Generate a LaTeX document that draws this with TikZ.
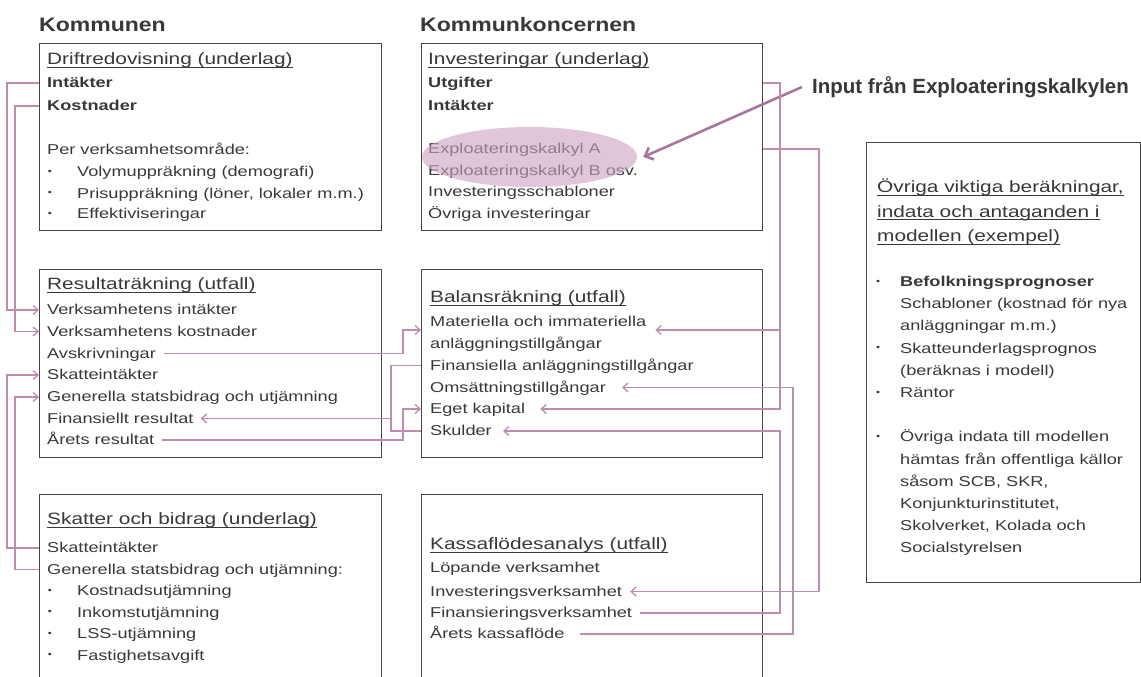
\documentclass[tikz,border=0pt]{standalone}
\usepackage{fontspec}
\setmainfont{Liberation Sans}[FakeStretch=1.27]
\newfontfamily\headfont{Liberation Sans}[FakeStretch=1.18]
\newfontfamily\inputfont{Liberation Sans}
\newcommand\myul[1]{{\setbox0\hbox{#1}\rlap{\rule[-3pt]{\wd0}{0.9pt}}\box0}}
\usetikzlibrary{arrows.meta,calc,shapes.geometric}
\definecolor{tx}{HTML}{383838}
\definecolor{bd}{HTML}{444444}
\definecolor{pk}{HTML}{BF8CAF}
\definecolor{pkd}{HTML}{A9769B}
\definecolor{ellc}{HTML}{CDA3C0}
\begin{document}
\begin{tikzpicture}[x=1pt,y=-1pt,
  box/.style={draw=bd, line width=1.2pt, inner sep=0pt, anchor=north west},
  txt/.style={anchor=west, inner sep=0pt, text height=11pt, text depth=2pt, text=tx, font=\fontsize{14.3}{16}\selectfont},
  btxt/.style={txt, font=\fontsize{14.3}{16}\selectfont\bfseries},
  ttl/.style={txt, font=\fontsize{16.4}{18}\selectfont},
  bul/.style={inner sep=0pt, text=tx, font=\fontsize{9}{9}\selectfont},
  head/.style={anchor=west, inner sep=0pt, text=tx, font=\headfont\bfseries\fontsize{19.5}{22}\selectfont},
  conn/.style={draw=pk, line width=1.3pt},
  arr/.style={conn, -{Straight Barb[length=5pt,width=9pt]}},
  bigarr/.style={draw=pkd, line width=2.6pt, -{Straight Barb[length=7pt,width=13pt]}},
]
\useasboundingbox (0,0) rectangle (1141,677);

% headers
\node[head] (kom) at (39,25) {Kommunen};
\node[head] (komk) at (420,25) {Kommunkoncernen};

% boxes
\node[box, minimum width=342pt, minimum height=187pt] (A) at (39,43) {};
\node[box, minimum width=341pt, minimum height=187pt] (B) at (421,43) {};
\node[box, minimum width=342pt, minimum height=188pt] (C) at (39,269) {};
\node[box, minimum width=341pt, minimum height=188pt] (D) at (421,269) {};
\node[box, minimum width=342pt, minimum height=220pt] (E) at (39,494) {};
\node[box, minimum width=341pt, minimum height=220pt] (F) at (421,494) {};
\node[box, minimum width=273.5pt, minimum height=440pt] (G) at (866,142) {};

% box A
\node[ttl] (a-t) at (47,60) {\myul{Driftredovisning (underlag)}};
\node[btxt] (a-int) at (47,83) {Intäkter};
\node[btxt] (a-kost) at (47,106) {Kostnader};
\node[txt] (a-per) at (47,150) {Per verksamhetsområde:};
\node[bul] (a-b1) at (50,172) {•};
\node[txt] (a-vol) at (77,172) {Volymuppräkning (demografi)};
\node[bul] (a-b2) at (50,193.5) {•};
\node[txt] (a-pris) at (77,193.5) {Prisuppräkning (löner, lokaler m.m.)};
\node[bul] (a-b3) at (50,214) {•};
\node[txt] (a-eff) at (77,214) {Effektiviseringar};

% box B
\node[ttl] (b-t) at (428,60) {\myul{Investeringar (underlag)}};
\node[btxt] (b-utg) at (428,83) {Utgifter};
\node[btxt] (b-int) at (428,106) {Intäkter};
\node[txt] (b-ea) at (428,149) {Exploateringskalkyl A};
\node[txt] (b-eb) at (428,170.5) {Exploateringskalkyl B osv.};
\node[txt] (b-is) at (428,192) {Investeringsschabloner};
\node[txt] (b-oi) at (428,213.5) {Övriga investeringar};
\node[ellipse, fill=ellc, fill opacity=0.62, minimum width=215pt, minimum height=60pt, inner sep=0pt] (ell) at (529.5,157) {};

% box C
\node[ttl] (c-t) at (47,285) {\myul{Resultaträkning (utfall)}};
\node[txt] (c-vi) at (47,310) {Verksamhetens intäkter};
\node[txt] (c-vk) at (47,331.5) {Verksamhetens kostnader};
\node[txt] (c-avs) at (47,353.5) {Avskrivningar};
\node[txt] (c-sk) at (47,375) {Skatteintäkter};
\node[txt] (c-gen) at (47,397) {Generella statsbidrag och utjämning};
\node[txt] (c-fin) at (47,418.5) {Finansiellt resultat};
\node[txt] (c-ar) at (47,440) {Årets resultat};

% box D
\node[ttl] (d-t) at (430,298) {\myul{Balansräkning (utfall)}};
\node[txt] (d-mat) at (430,322) {Materiella och immateriella};
\node[txt] (d-anl) at (430,344) {anläggningstillgångar};
\node[txt] (d-fa) at (430,365.5) {Finansiella anläggningstillgångar};
\node[txt] (d-om) at (430,387.5) {Omsättningstillgångar};
\node[txt] (d-ek) at (430,409) {Eget kapital};
\node[txt] (d-sk) at (430,431) {Skulder};

% box E
\node[ttl] (e-t) at (47,520) {\myul{Skatter och bidrag (underlag)}};
\node[txt] (e-sk) at (47,548) {Skatteintäkter};
\node[txt] (e-gen) at (47,569.5) {Generella statsbidrag och utjämning:};
\node[bul] (e-b1) at (50,591) {•};
\node[txt] (e-ku) at (77,591) {Kostnadsutjämning};
\node[bul] (e-b2) at (50,612.5) {•};
\node[txt] (e-iu) at (77,612.5) {Inkomstutjämning};
\node[bul] (e-b3) at (50,634) {•};
\node[txt] (e-lss) at (77,634) {LSS-utjämning};
\node[bul] (e-b4) at (50,655.5) {•};
\node[txt] (e-fa) at (77,655.5) {Fastighetsavgift};

% box F
\node[ttl] (f-t) at (430,545) {\myul{Kassaflödesanalys (utfall)}};
\node[txt] (f-lop) at (430,568) {Löpande verksamhet};
\node[txt] (f-inv) at (430,591.5) {Investeringsverksamhet};
\node[txt] (f-fin) at (430,613) {Finansieringsverksamhet};
\node[txt] (f-ar) at (430,634) {Årets kassaflöde};

% box G
\node[ttl] (g-t1) at (877,188) {\myul{Övriga viktiga beräkningar,}};
\node[ttl] (g-t2) at (877,212.5) {\myul{indata och antaganden i}};
\node[ttl] (g-t3) at (877,237) {\myul{modellen (exempel)}};
\node[bul] (g-b1) at (878,282) {•};
\node[btxt] (g-1) at (900,282) {Befolkningsprognoser};
\node[txt] (g-2) at (900,304.2) {Schabloner (kostnad för nya};
\node[txt] (g-3) at (900,326.4) {anläggningar m.m.)};
\node[bul] (g-b2) at (878,348.6) {•};
\node[txt] (g-4) at (900,348.6) {Skatteunderlagsprognos};
\node[txt] (g-5) at (900,370.8) {(beräknas i modell)};
\node[bul] (g-b3) at (878,393) {•};
\node[txt] (g-6) at (900,393) {Räntor};
\node[bul] (g-b4) at (878,437.4) {•};
\node[txt] (g-7) at (900,437.4) {Övriga indata till modellen};
\node[txt] (g-8) at (900,459.6) {hämtas från offentliga källor};
\node[txt] (g-9) at (900,481.8) {såsom SCB, SKR,};
\node[txt] (g-10) at (900,504) {Konjunkturinstitutet,};
\node[txt] (g-11) at (900,526.2) {Skolverket, Kolada och};
\node[txt] (g-12) at (900,548.4) {Socialstyrelsen};

% input label and arrow
\node[anchor=west, inner sep=0pt, text=tx, font=\inputfont\bfseries\fontsize{20.5}{24}\selectfont] (inp) at (812,87) {Input från Exploateringskalkylen};
\draw[bigarr] ([xshift=-10pt]inp.west) -- ([xshift=6pt]ell.east);

% helper coordinates
\coordinate (xa) at (403,0);
\coordinate (xb) at (391,0);
\coordinate (xu) at (780,0);
\coordinate (xk) at (793,0);
\coordinate (xe) at (819,0);
\coordinate (dmy) at ([yshift=-8pt]d-mat.west);
\coordinate (dme) at ([xshift=9pt]d-mat.east);

% left connectors
\draw[arr] (A.west |- a-int) -- ++(-32,0) |- (C.west |- c-vi);
\draw[arr] (A.west |- a-kost) -- ++(-24,0) |- (C.west |- c-vk);
\draw[arr] (E.west |- e-sk) -- ++(-32,0) |- (C.west |- c-sk);
\draw[arr] (E.west |- e-gen) -- ++(-24,0) |- (C.west |- c-gen);

% middle connectors
\draw[arr] ([xshift=8pt]c-avs.east) -- (xa |- c-avs) |- (D.west |- dmy);
\draw[arr] ([xshift=8pt]c-ar.east) -- (xa |- c-ar) |- (D.west |- d-ek);
\draw[conn] (D.west |- d-fa) -- (xb |- d-fa) -- (xb |- d-sk) -- (D.west |- d-sk);
\draw[arr] (xb |- c-fin) -- ([xshift=7pt]c-fin.east);

% right connectors
\draw[arr] (B.east |- b-utg) -- (xu |- b-utg) |- ([xshift=15pt]d-ek.east);
\draw[arr] (xu |- dmy) -- (dme |- dmy);
\draw[arr] (B.east |- b-ea) -- (xe |- b-ea) |- ([xshift=8pt]f-inv.east);
\draw[arr] ([xshift=8pt]f-fin.east) -- (xu |- f-fin) |- ([xshift=11pt]d-sk.east);
\draw[arr] ([xshift=15pt]f-ar.east) -- (xk |- f-ar) |- ([xshift=16pt]d-om.east);
\end{tikzpicture}
\end{document}
